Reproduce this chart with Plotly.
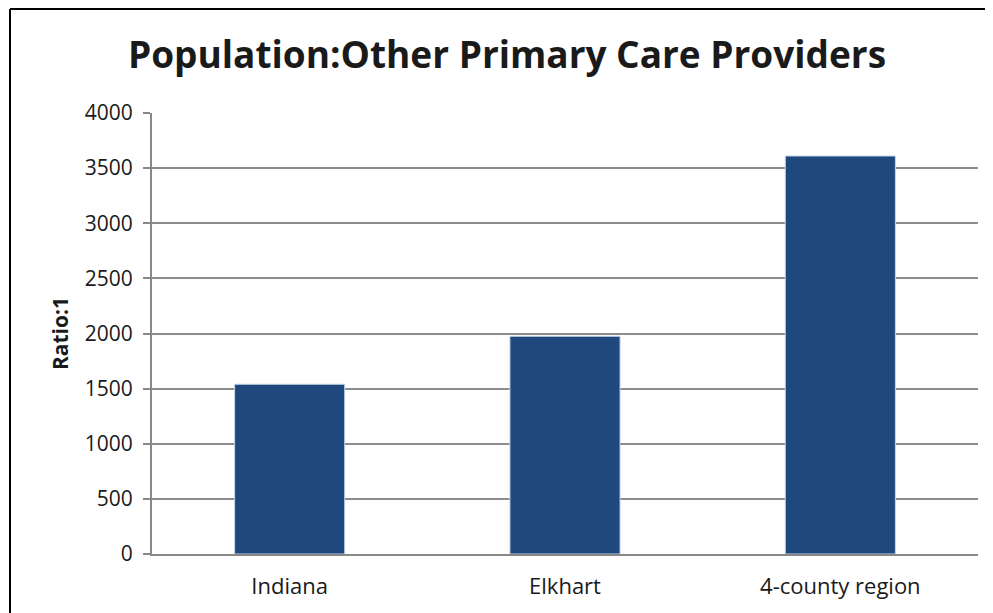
import plotly.graph_objects as go

categories = ["Indiana", "Elkhart", "4-county region"]
values = [1540, 1975, 3610]
y_ticks = [0, 500, 1000, 1500, 2000, 2500, 3000, 3500, 4000]

# page body has an 8px margin, so the figure is sized/offset to compensate
W, H = 985, 605
ml, mt = 144, 105
pw = 970 - ml
ph = 546 - mt
mr, mb = W - ml - pw, H - mt - ph

fig = go.Figure(go.Bar(
    x=categories, y=values,
    marker=dict(color="#1F497D", line=dict(color="#c6d6ea", width=1)),
    width=0.4,
))

font = "Open Sans, Noto Sans, sans-serif"
fig.update_layout(
    width=W, height=H,
    margin=dict(l=ml, r=mr, t=mt, b=mb),
    paper_bgcolor="white", plot_bgcolor="white",
    showlegend=False,
    title=dict(text="<b>Population:Other Primary Care Providers</b>",
               x=(507 - 8) / W, xanchor="center", xref="container",
               y=1 - 47 / H, yanchor="middle", yref="container",
               font=dict(family=font, size=37, color="#1a1a1a")),
    font=dict(family=font, color="#1a1a1a"),
)
fig.update_xaxes(
    showline=True, linecolor="#888888", linewidth=2,
    ticks="", ticklabelstandoff=12,
    tickfont=dict(size=22, family=font, color="#1a1a1a"),
    showgrid=False,
)
fig.update_yaxes(
    range=[0, 4000], tickvals=y_ticks,
    showgrid=True, gridcolor="#8c8c8c", gridwidth=1.5,
    showline=True, linecolor="#888888", linewidth=2,
    ticks="outside", ticklen=7, tickcolor="#888888", tickwidth=1.5,
    ticklabelstandoff=6,
    tickfont=dict(size=21, family=font, color="#1a1a1a"),
    title=dict(text="<b>Ratio:1</b>", font=dict(size=21, family=font, color="#1a1a1a"), standoff=10),
    zeroline=False,
)

# outer chart border (left and top edges visible)
x0 = (2 - ml) / pw
y1 = 1 + (mt - 1) / ph
fig.add_shape(type="line", xref="paper", yref="paper", x0=x0, x1=x0, y0=-0.5, y1=y1,
              line=dict(color="#000000", width=2))
fig.add_shape(type="line", xref="paper", yref="paper", x0=x0, x1=1.5, y0=y1, y1=y1,
              line=dict(color="#000000", width=2))

fig.write_html("out.html")
